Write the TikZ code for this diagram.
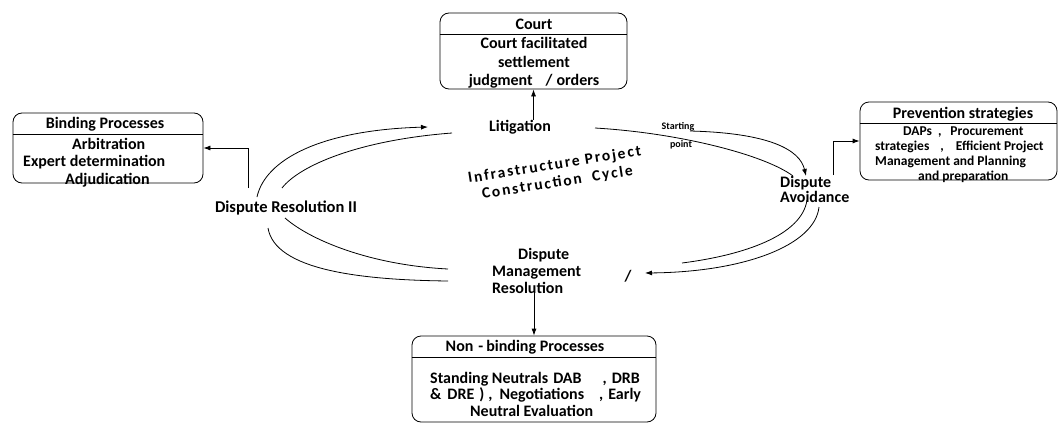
\documentclass[tikz,border=0pt]{standalone}
\usepackage{fontspec}
\setmainfont{Carlito}
\newfontfamily\spacedfont[LetterSpace=12]{Carlito}
\usetikzlibrary{arrows.meta}
\begin{document}
\begin{tikzpicture}[x=1pt,y=-1pt,
  box/.style={draw, rounded corners=9pt, line width=0.8pt, inner sep=0pt},
  ttl/.style={font=\fontsize{16}{18}\bfseries\selectfont, inner sep=0pt},
  bdy/.style={font=\fontsize{16}{18.5}\bfseries\selectfont, align=center, inner sep=0pt},
  sbdy/.style={font=\fontsize{13.5}{15}\bfseries\selectfont, align=left, inner sep=0pt},
  lbl/.style={font=\fontsize{16}{17}\bfseries\selectfont, inner sep=0pt},
  tiny/.style={font=\fontsize{10}{11}\bfseries\selectfont, inner sep=0pt},
  arr/.style={-{Latex[length=7pt,width=5pt]}, line width=0.8pt},
  ln/.style={line width=0.8pt}]
\useasboundingbox (0,0) rectangle (1060,423);

% ---------- boxes ----------
\node[box, minimum width=187pt, minimum height=76pt] (court) at (533.5,51) {};
\draw[ln] (court.west |- 0,34) -- (court.east |- 0,34);
\node[ttl] (courtT) at (534,24) {Court};
\node[bdy] (courtB) at (534,63) {Court facilitated\\settlement\\judgment\hspace{13pt}/\hspace{4pt}orders};

\node[box, minimum width=190pt, minimum height=70pt] (bind) at (108,148) {};
\draw[ln] (bind.west |- 0,134) -- (bind.east |- 0,134);
\node[ttl] (bindT) at (105,124) {Binding Processes};
\node[bdy, align=left, anchor=west, font=\fontsize{16}{17.5}\bfseries\selectfont] (bindB) at (23,162.5) {\hspace{49pt}Arbitration\\Expert determination\\\hspace{42pt}Adjudication};

\node[box, minimum width=197pt, minimum height=78pt] (prev) at (958.5,141) {};
\draw[ln] (prev.west |- 0,123) -- (prev.east |- 0,123);
\node[ttl] (prevT) at (963,114) {Prevention strategies};
\node[sbdy, anchor=west] (prevB) at (875,154.5) {\hspace{28pt}DAPs\hspace{6pt},\hspace{9pt}Procurement\\strategies\hspace{11pt},\hspace{12pt}Efficient Project\\Management and Planning\\\hspace{43pt}and preparation};

\node[box, minimum width=244pt, minimum height=86pt] (nonb) at (534,379) {};
\draw[ln] (nonb.west |- 0,357) -- (nonb.east |- 0,357);
\node[ttl] (nonbT) at (525,347) {Non\hspace{5pt}-\hspace{3pt}binding Processes};
\node[bdy, align=left, anchor=west, font=\fontsize{16}{16.5}\bfseries\selectfont] (nonbB) at (430,394) {Standing Neutrals\hspace{5pt}DAB\hspace{21pt},\hspace{5pt}DRB\\\&\hspace{6pt}DRE\hspace{5pt})\hspace{4pt},\hspace{7pt}Negotiations\hspace{15pt},\hspace{5pt}Early\\\hspace{40pt}Neutral Evaluation};

% ---------- labels ----------
\node[lbl] (lit) at (520,127) {Litigation};
\node[lbl, font=\fontsize{16.5}{17}\bfseries\selectfont] (dr2) at (286,208) {Dispute Resolution II};
\node[lbl, align=left, anchor=west, font=\fontsize{16}{15.5}\bfseries\selectfont] (da) at (780,189.5) {Dispute\\Avoidance};
\node[lbl, align=left, anchor=west] (dm) at (492,270.5) {\hspace{26pt}Dispute\\Management\\Resolution};
\node[lbl] (slash) at (628,276) {/};
\node[tiny] (start) at (678,127) {Starting};
\node[tiny] (pt) at (681,145) {point};
\node[font=\spacedfont\fontsize{15.5}{18}\bfseries\selectfont, align=center, rotate=9, inner sep=0pt] (cyc) at (556,174) {Infrastructure Project\\Construction\ \ Cycle};

% ---------- connectors between labels and boxes ----------
\draw[arr] (court.south |- lit.north) -- (court.south);
\coordinate (drUp) at (248,188);
\draw[arr] (drUp) |- (bind.east);
\coordinate (daUp) at (833,175);
\draw[arr] (daUp) |- (prev.west);
\draw[arr] (nonb.north |- dm.south) -- (nonb.north);

% ---------- cycle curves ----------
\coordinate (c1s) at (257,197); \coordinate (c1e) at (428,127);
\draw[arr] (c1s) .. controls (265,160) and (320,130) .. (c1e);
\coordinate (c2s) at (282,188); \coordinate (c2e) at (452,133);
\draw[ln] (c2s) .. controls (300,165) and (360,140) .. (c2e);

\coordinate (c3s) at (595,128); \coordinate (c3e) at (793,176);
\draw[ln] (c3s) .. controls (680,133) and (765,155) .. (c3e);
\coordinate (c4s) at (690,131); \coordinate (c4e) at (806,176);
\draw[arr] (c4s) .. controls (770,133) and (800,150) .. (c4e);

\coordinate (c5s) at (807,200); \coordinate (c5e) at (682,263);
\draw[ln] (c5s) .. controls (802,235) and (745,255) .. (c5e);
\coordinate (c6s) at (819,207); \coordinate (c6e) at (645,273);
\draw[arr] (c6s) .. controls (815,245) and (745,272) .. (c6e);

\coordinate (c7s) at (448,269); \coordinate (c7e) at (285,218);
\draw[ln] (c7s) .. controls (370,265) and (310,240) .. (c7e);
\coordinate (c8s) at (448,281); \coordinate (c8e) at (268,228);
\draw[ln] (c8s) .. controls (360,280) and (275,270) .. (c8e);
\end{tikzpicture}
\end{document}
